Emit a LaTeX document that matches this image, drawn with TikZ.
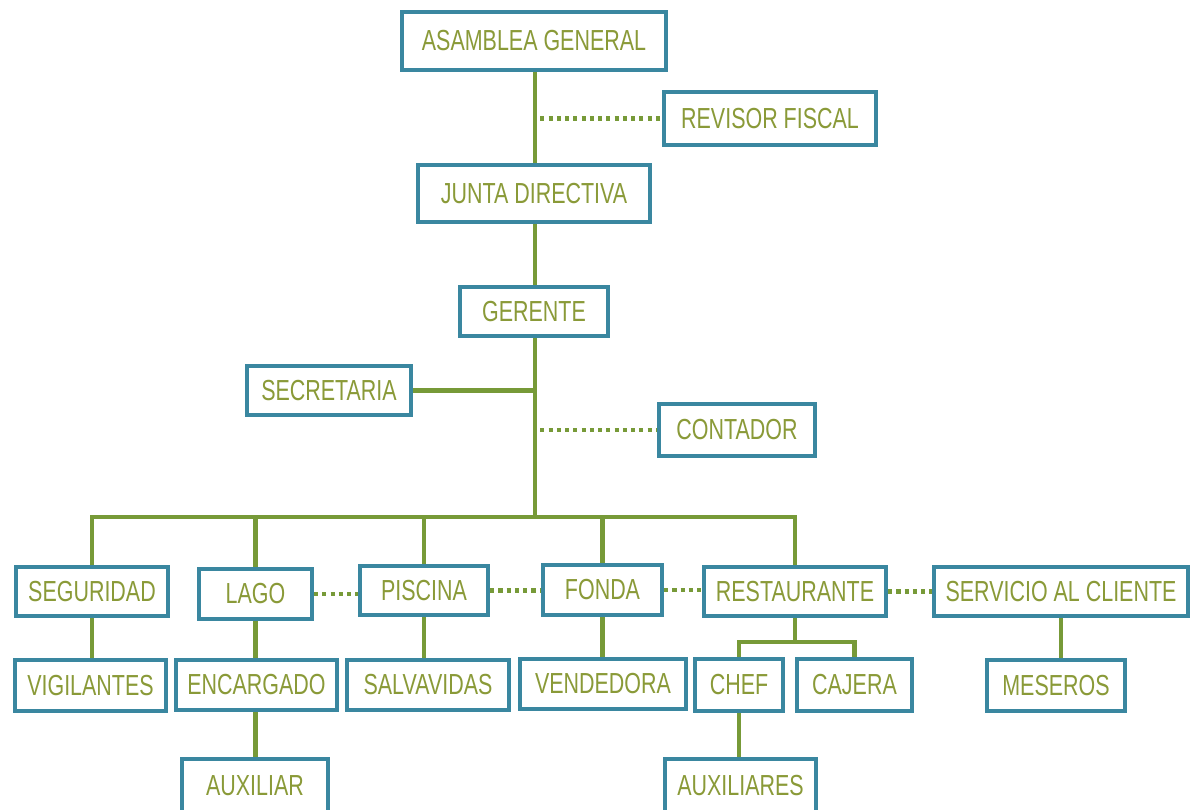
\documentclass[tikz,border=0pt]{standalone}
\usepackage{fontspec}
\setmainfont{Liberation Sans}[FakeStretch=0.74]
\definecolor{boxblue}{HTML}{3A87A0}
\definecolor{txtgreen}{HTML}{8A9A38}
\definecolor{linegreen}{HTML}{779A38}
\tikzset{
  box/.style={draw=boxblue, line width=2.5pt, fill=white, inner sep=0pt, text=txtgreen, font=\fontsize{16.5}{18}\selectfont},
  link/.style={draw=linegreen, line width=2.6pt},
  dotlink/.style={draw=linegreen, line width=2.5pt, dash pattern=on 2.3pt off 2.4pt}
}
\newcommand{\orgbox}[6]{\node[box, minimum width={(#4-#2-4)*0.02cm}, minimum height={(#5-#3-4)*0.02cm}] (#1) at ({(#2+#4)/2},{(#3+#5)/2}) {#6};}
\begin{document}
\begin{tikzpicture}[x=0.02cm, y=-0.02cm]
\useasboundingbox (0,0) rectangle (1196,810);
\coordinate (bus) at (535,517);
\orgbox{ag}{400}{10}{668}{72}{ASAMBLEA GENERAL}
\orgbox{rf}{662}{90}{878}{147}{REVISOR FISCAL}
\orgbox{jd}{416}{163}{652}{224}{JUNTA DIRECTIVA}
\orgbox{ger}{458}{285}{610}{338}{GERENTE}
\orgbox{sec}{245}{364}{413}{417}{SECRETARIA}
\orgbox{cont}{657}{402}{817}{458}{CONTADOR}
\orgbox{seg}{14}{565}{170}{618}{SEGURIDAD}
\orgbox{lago}{197}{567}{314}{621}{LAGO}
\orgbox{pis}{358}{564}{490}{617}{PISCINA}
\orgbox{fon}{541}{563}{664}{617}{FONDA}
\orgbox{rest}{702}{565}{888}{618}{RESTAURANTE}
\orgbox{serv}{932}{565}{1190}{618}{SERVICIO AL CLIENTE}
\orgbox{vig}{13}{658}{168}{713}{VIGILANTES}
\orgbox{enc}{174}{658}{339}{712}{ENCARGADO}
\orgbox{salv}{345}{658}{511}{712}{SALVAVIDAS}
\orgbox{vend}{518}{657}{688}{711}{VENDEDORA}
\orgbox{chef}{693}{657}{785}{713}{CHEF}
\orgbox{caj}{795}{657}{914}{713}{CAJERA}
\orgbox{mes}{985}{658}{1127}{713}{MESEROS}
\orgbox{aux}{180}{757}{330}{814}{AUXILIAR}
\orgbox{auxs}{663}{757}{818}{814}{AUXILIARES}
\path (rest.south) ++(0,24) coordinate (split);
% solid links
\draw[link] (ag.south -| bus) -- (jd.north -| bus);
\draw[link] (jd.south -| bus) -- (ger.north -| bus);
\draw[link] (ger.south -| bus) -- (bus);
\draw[link] (sec.east) -- (sec.east -| bus);
\draw[link] (seg.north) |- (bus) -| (rest.north);
\draw[link] (lago.north) -- (lago.north |- bus);
\draw[link] (pis.north) -- (pis.north |- bus);
\draw[link] (fon.north) -- (fon.north |- bus);
\draw[link] (seg.south) -- (seg.south |- vig.north);
\draw[link] (lago.south) -- (lago.south |- enc.north);
\draw[link] (enc.south -| lago.south) -- (lago.south |- aux.north);
\draw[link] (pis.south) -- (pis.south |- salv.north);
\draw[link] (fon.south) -- (fon.south |- vend.north);
\draw[link] (rest.south) -- (split);
\draw[link] (chef.north) |- (split) -| (caj.north);
\draw[link] (chef.south) -- (chef.south |- auxs.north);
\draw[link] (serv.south) -- (serv.south |- mes.north);
% dotted links
\draw[dotlink] ([xshift=3pt]rf.west -| bus) -- (rf.west);
\draw[dotlink] ([xshift=3pt]cont.west -| bus) -- (cont.west);
\draw[dotlink] (lago.east) -- (lago.east -| pis.west);
\draw[dotlink] (pis.east) -- (pis.east -| fon.west);
\draw[dotlink] (fon.east) -- (fon.east -| rest.west);
\draw[dotlink] (rest.east) -- (rest.east -| serv.west);
\end{tikzpicture}
\end{document}
